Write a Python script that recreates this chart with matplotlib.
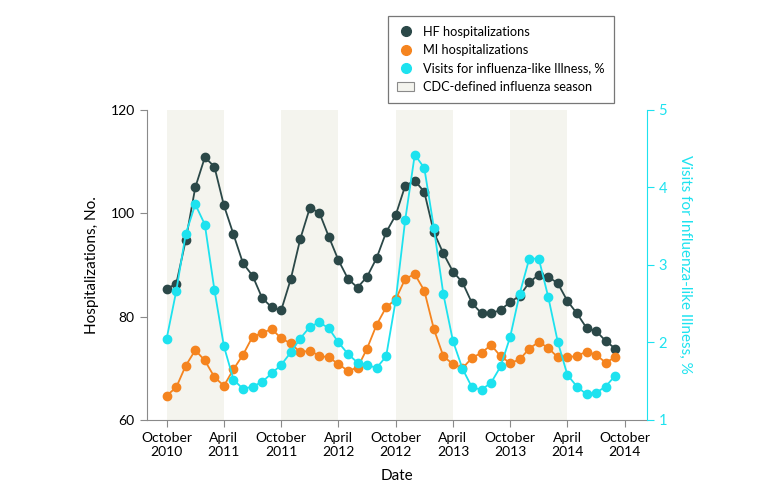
import numpy as np
import matplotlib.pyplot as plt
from matplotlib.lines import Line2D
from matplotlib.patches import Patch

plt.rcParams['font.family'] = ['Lato', 'DejaVu Sans']

# Monthly values, October 2010 to September 2014
hf = [85.4, 86.3, 94.8, 105.0, 110.8, 109.0, 101.5, 95.9, 90.3, 87.9, 83.6, 81.8,
      81.2, 87.2, 95.0, 101.0, 100.1, 95.4, 90.9, 87.3, 85.6, 87.7, 91.3, 96.3,
      99.6, 105.3, 106.3, 104.1, 96.3, 92.2, 88.7, 86.6, 82.6, 80.6, 80.6, 81.3,
      82.8, 84.0, 86.6, 88.1, 87.7, 86.4, 83.0, 80.6, 77.8, 77.2, 75.3, 73.8]
mi = [64.7, 66.3, 70.5, 73.5, 71.5, 68.3, 66.6, 69.8, 72.6, 76.1, 76.8, 77.6,
      75.8, 74.8, 73.1, 73.4, 72.4, 72.1, 70.8, 69.5, 70.1, 73.8, 78.4, 81.8,
      83.3, 87.3, 88.2, 85.0, 77.6, 72.3, 70.8, 70.0, 72.0, 73.0, 74.5, 72.3,
      71.0, 71.7, 73.8, 75.1, 73.9, 72.1, 72.1, 72.4, 73.2, 72.6, 71.1, 72.1]
ili = [2.05, 2.66, 3.40, 3.78, 3.52, 2.68, 1.95, 1.52, 1.40, 1.43, 1.49, 1.60,
       1.71, 1.87, 2.05, 2.20, 2.26, 2.18, 2.00, 1.85, 1.74, 1.71, 1.67, 1.82,
       2.54, 3.58, 4.42, 4.25, 3.48, 2.62, 2.02, 1.66, 1.42, 1.39, 1.48, 1.69,
       2.07, 2.63, 3.08, 3.08, 2.58, 2.00, 1.58, 1.43, 1.33, 1.35, 1.43, 1.57]

tickLabels = ["October\n2010", "April\n2011", "October\n2011", "April\n2012",
              "October\n2012", "April\n2013", "October\n2013", "April\n2014",
              "October\n2014"]
# flu seasons: October to April, in months since October 2010
seasonStarts = [0, 12, 24, 36]
seasonLength = 6

hfColor = "#2b4848"
miColor = "#f5841f"
iliColor = "#1de2ef"
shadeColor = "#f4f4ee"
axisGray = "#8a8a8a"

months = np.arange(len(hf))

fig = plt.figure(figsize=(7.8, 4.9), dpi=100)
ax = fig.add_axes([0.188, 0.143, 0.641, 0.633])
ax2 = ax.twinx()

for s in seasonStarts:
    ax.axvspan(s, s + seasonLength, color=shadeColor, lw=0, zorder=0)

ax.plot(months, hf, c=hfColor, lw=1.3, marker="o", ms=6, zorder=3)
ax.plot(months, mi, c=miColor, lw=1.3, marker="o", ms=6, zorder=3)
ax2.plot(months, ili, c=iliColor, lw=1.3, marker="o", ms=6, zorder=3)

ax.set_xlim(-2.1, 50.3)
ax.set_ylim(60, 120)
ax2.set_ylim(1, 5)
ax.set_xticks(np.arange(0, 49, 6))
ax.set_xticklabels(tickLabels)
ax.set_yticks([60, 80, 100, 120])
ax2.set_yticks([1, 2, 3, 4, 5])

ax.spines["top"].set_visible(False)
ax2.spines["top"].set_visible(False)
ax.spines["left"].set_color(axisGray)
ax.spines["bottom"].set_color(axisGray)
ax.spines["right"].set_visible(False)
ax2.spines["left"].set_visible(False)
ax2.spines["bottom"].set_visible(False)
ax2.spines["right"].set_color(iliColor)

ax.tick_params(axis="both", colors=axisGray, labelcolor="black", labelsize=10, length=5)
ax2.tick_params(axis="y", colors=iliColor, labelcolor=iliColor, labelsize=10.5, length=5)

ax.set_xlabel("Date", fontsize=11, labelpad=8)
ax.set_ylabel("Hospitalizations, No.", fontsize=11, labelpad=8)
ax2.set_ylabel("Visits for Influenza-like Illness, %", fontsize=11, color=iliColor,
               rotation=270, labelpad=18)

handles = [
    Line2D([], [], ls="none", marker="o", ms=7, c=hfColor),
    Line2D([], [], ls="none", marker="o", ms=7, c=miColor),
    Line2D([], [], ls="none", marker="o", ms=7, c=iliColor),
    Patch(facecolor=shadeColor, edgecolor=axisGray, lw=0.8),
]
labels = ["HF hospitalizations", "MI hospitalizations",
          "Visits for influenza-like Illness, %", "CDC-defined influenza season"]
leg = fig.legend(handles, labels, loc="upper left", bbox_to_anchor=(0.497, 0.967),
                 borderaxespad=0, fontsize=9.2, frameon=True, fancybox=False,
                 handlelength=1.3, handletextpad=0.7, labelspacing=0.5,
                 borderpad=0.75)
leg.get_frame().set_edgecolor("#555555")
leg.get_frame().set_linewidth(0.9)

fig.savefig("out.png", dpi=100)
